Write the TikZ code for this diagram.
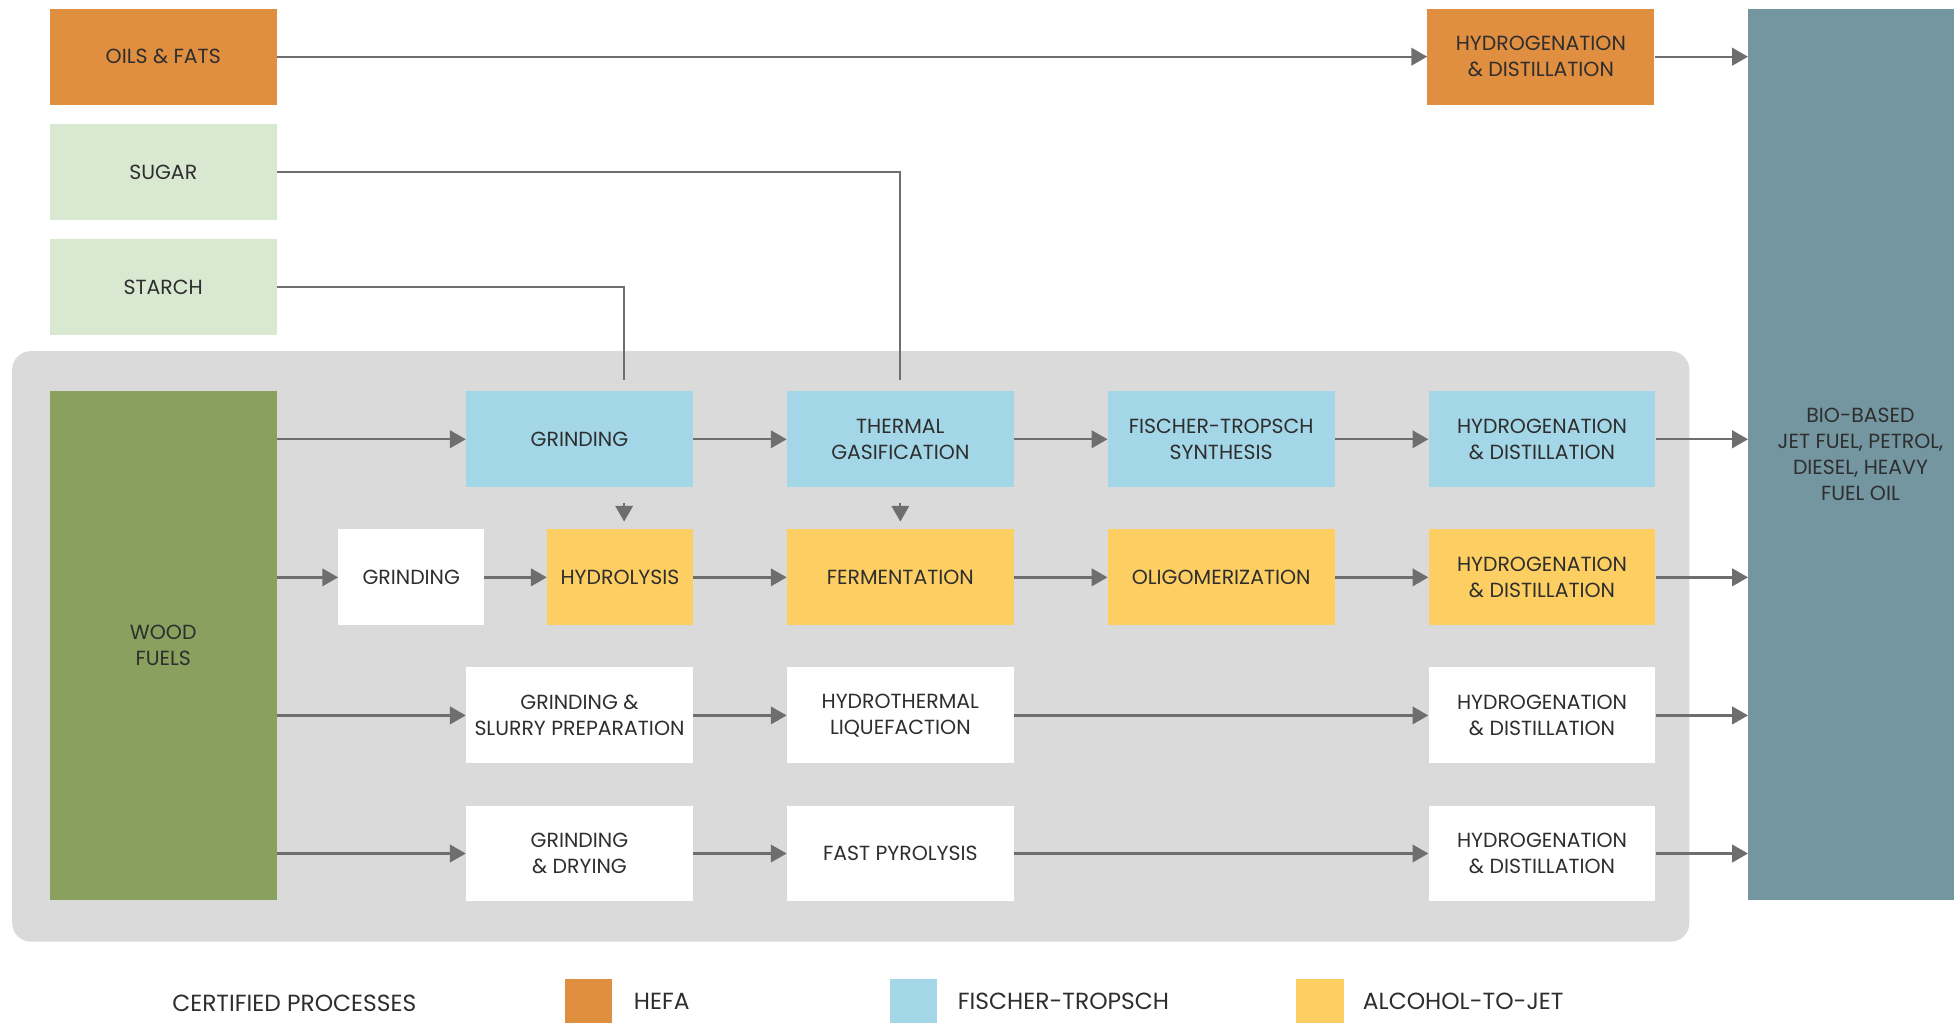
\documentclass[tikz,border=0pt]{standalone}
\usepackage{fontspec}
\setmainfont{Poppins}
\usepackage{tikz}
\usetikzlibrary{arrows.meta,positioning,backgrounds}
\usepackage{xcolor}
\definecolor{hefaC}{HTML}{E08E3F}
\definecolor{ftC}{HTML}{A3D6E6}
\definecolor{atjC}{HTML}{FDCF62}
\definecolor{feedC}{HTML}{D8E8D1}
\definecolor{woodC}{HTML}{8AA05F}
\definecolor{outC}{HTML}{7396A0}
\definecolor{panelC}{HTML}{DADADA}
\definecolor{lineC}{HTML}{6E6E6E}
\definecolor{txtC}{HTML}{2E2E2E}

\begin{document}
\begin{tikzpicture}[
  node distance=10mm and 22.5mm,
  box/.style={inner sep=0pt,minimum width=54.6mm,minimum height=23.1mm,align=center,text=txtC,font=\fontsize{14}{17.9}\selectfont},
  hefa/.style={box,fill=hefaC},
  ftbox/.style={box,fill=ftC},
  atj/.style={box,fill=atjC},
  neutral/.style={box,fill=white},
  feed/.style={box,fill=feedC},
  wood/.style={box,fill=woodC},
  outbox/.style={box,fill=outC},
  swatch/.style={inner sep=0pt,minimum width=11.4mm,minimum height=10.8mm,anchor=north west},
  legtext/.style={inner sep=0pt,text=txtC,font=\fontsize{16}{19}\selectfont},
  arr/.style={-{Triangle[length=3.8mm,width=4.2mm]},draw=lineC,line width=1.6pt},
  feedline/.style={draw=lineC,line width=1.3pt}
]
\useasboundingbox (0,0) rectangle (470.4mm,-246.3mm);
% feedstocks
\node[hefa] (oils) at (39.3mm,-13.65mm) {OILS \& FATS};
\node[feed,below=4.5mm of oils] (sugar) {SUGAR};
\node[feed,below=4.5mm of sugar] (starch) {STARCH};
\node[hefa,right=276.9mm of oils] (hyd1) {HYDROGENATION\\\& DISTILLATION};
% wood pathways
\node[ftbox] (gr1) at (139.5mm,-105.75mm) {GRINDING};
\node[ftbox,right=of gr1] (gas) {THERMAL\\GASIFICATION};
\node[ftbox,right=of gas] (fts) {FISCHER-TROPSCH\\SYNTHESIS};
\node[ftbox,right=of fts] (hyd2) {HYDROGENATION\\\& DISTILLATION};
\node[atj,minimum width=35.1mm,below=of gr1.south east,anchor=north east] (hydro) {HYDROLYSIS};
\node[neutral,minimum width=35.1mm,left=15mm of hydro] (gr2) {GRINDING};
\node[atj,below=of gas] (ferm) {FERMENTATION};
\node[atj,below=of fts] (olig) {OLIGOMERIZATION};
\node[atj,below=of hyd2] (hyd3) {HYDROGENATION\\\& DISTILLATION};
\node[neutral,below=of ferm] (htl) {HYDROTHERMAL\\LIQUEFACTION};
\node[neutral,left=of htl] (gsp) {GRINDING \&\\SLURRY PREPARATION};
\node[neutral,below=of hyd3] (hyd4) {HYDROGENATION\\\& DISTILLATION};
\node[neutral,below=of htl] (fp) {FAST PYROLYSIS};
\node[neutral,left=of fp] (gd) {GRINDING\\\& DRYING};
\node[neutral,below=of hyd4] (hyd5) {HYDROGENATION\\\& DISTILLATION};
\node[wood,minimum height=122.4mm,anchor=north] (wood) at (oils |- gr1.north) {WOOD\\FUELS};
\node[outbox,anchor=north west,minimum width=54mm,minimum height=214.5mm] (out) at ([xshift=22.5mm]hyd1.north east) {BIO-BASED\\JET FUEL, PETROL,\\DIESEL, HEAVY\\FUEL OIL};
\begin{scope}[on background layer]
\fill[white] (0,0) rectangle (470.4mm,-246.3mm);
\fill[panelC,rounded corners=4.5mm] ([xshift=-9mm,yshift=9.6mm]wood.north west) rectangle ([xshift=8.1mm,yshift=-9.6mm]hyd5.south east);
\end{scope}
% connectors
\coordinate (sugarin) at ([yshift=2.7mm]gas.north);
\coordinate (starchin) at ([xshift=1mm,yshift=2.7mm]gr1.north -| hydro.north);
\draw[feedline] (sugar) -| (sugarin);
\draw[feedline] (starch) -| (starchin);
\draw[arr] (oils) -- (hyd1);
\draw[arr] (hyd1) -- (hyd1 -| out.west);
\draw[arr] (wood.east |- gr1) -- (gr1);
\draw[arr] (gr1) -- (gas);
\draw[arr] (gas) -- (fts);
\draw[arr] (fts) -- (hyd2);
\draw[arr] (hyd2) -- (hyd2 -| out.west);
\draw[arr,shorten <=3.6mm,shorten >=1.8mm] ([xshift=1mm]gr1.south -| hydro) -- ([xshift=1mm]hydro.north);
\draw[arr,shorten <=3.6mm,shorten >=1.8mm] (gas) -- (ferm);
\draw[arr] (wood.east |- gr2) -- (gr2);
\draw[arr] (gr2) -- (hydro);
\draw[arr] (hydro) -- (ferm);
\draw[arr] (ferm) -- (olig);
\draw[arr] (olig) -- (hyd3);
\draw[arr] (hyd3) -- (hyd3 -| out.west);
\draw[arr] (wood.east |- gsp) -- (gsp);
\draw[arr] (gsp) -- (htl);
\draw[arr] (htl) -- (hyd4);
\draw[arr] (hyd4) -- (hyd4 -| out.west);
\draw[arr] (wood.east |- gd) -- (gd);
\draw[arr] (gd) -- (fp);
\draw[arr] (fp) -- (hyd5);
\draw[arr] (hyd5) -- (hyd5 -| out.west);
% legend
\node[legtext,anchor=west] (cert) at (41.4mm,-241.5mm) {CERTIFIED PROCESSES};
\node[swatch,fill=hefaC] (keyhefa) at (135.9mm,-235.5mm) {};
\node[legtext,right=5.1mm of keyhefa] (labhefa) {HEFA};
\node[swatch,fill=ftC] (keyft) at (214.2mm,-235.5mm) {};
\node[legtext,right=4.8mm of keyft] (labft) {FISCHER-TROPSCH};
\node[swatch,fill=atjC] (keyatj) at (312mm,-235.5mm) {};
\node[legtext,right=4.5mm of keyatj] (labatj) {ALCOHOL-TO-JET};
\end{tikzpicture}
\end{document}
